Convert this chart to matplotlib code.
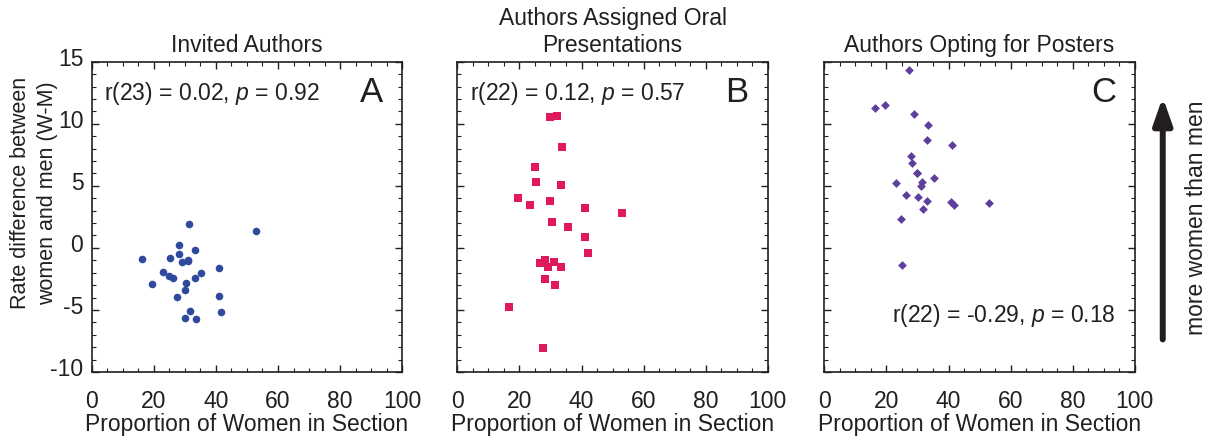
import matplotlib
matplotlib.use("Agg")
from matplotlib import pyplot as plt
from matplotlib.ticker import MultipleLocator
from matplotlib.transforms import ScaledTranslation

plt.rcParams['font.family'] = ['Liberation Sans', 'DejaVu Sans']
plt.rcParams['mathtext.fontset'] = 'custom'
plt.rcParams['mathtext.rm'] = 'Liberation Sans'
plt.rcParams['mathtext.it'] = 'Liberation Sans:italic'
plt.rcParams['axes.unicode_minus'] = False

# panel A - invited authors
invX = [31.4, 52.9, 28.1, 33.2, 16.3, 25.2, 28.2, 29.0, 31.1, 31.1, 41.0, 23.0, 24.8,
        26.3, 35.3, 33.2, 30.3, 19.5, 29.9, 27.4, 41.0, 31.7, 41.8, 29.9, 33.5]
invY = [1.93, 1.34, 0.26, -0.17, -0.89, -0.81, -0.52, -1.14, -0.95, -1.06, -1.6, -1.94, -2.29,
        -2.43, -2.02, -2.45, -2.8, -2.91, -3.39, -3.93, -3.88, -5.06, -5.19, -5.65, -5.75]

# panel B - oral presentations
oralX = [30.0, 32.0, 33.7, 25.0, 25.3, 33.3, 19.7, 23.3, 30.0, 41.1, 53.0, 30.5,
         35.5, 41.1, 42.0, 28.3, 26.5, 31.3, 29.2, 33.3, 28.2, 31.6, 16.5, 27.6]
oralY = [10.57, 10.65, 8.13, 6.55, 5.34, 5.07, 4.05, 3.46, 3.81, 3.22, 2.84, 2.11,
         1.71, 0.88, -0.41, -1.0, -1.24, -1.16, -1.51, -1.51, -2.51, -2.96, -4.76, -8.07]

# panel C - posters
postX = [27.4, 16.4, 19.5, 29.0, 33.5, 33.2, 41.0, 28.0, 28.1, 29.7, 29.9, 35.3,
         23.1, 31.4, 31.1, 26.3, 30.3, 33.2, 40.9, 41.7, 52.9, 31.8, 24.8, 25.1]
postY = [14.36, 11.3, 11.49, 10.79, 9.9, 8.67, 8.29, 7.43, 6.84, 6.06, 6.01, 5.63,
         5.2, 5.33, 4.99, 4.24, 4.13, 3.81, 3.72, 3.46, 3.62, 3.13, 2.35, -1.35]

titles = ['Invited Authors', 'Authors Assigned Oral\nPresentations', 'Authors Opting for Posters']
stats = ['r(23) = 0.02, $p$ = 0.92', 'r(22) = 0.12, $p$ = 0.57', 'r(22) = -0.29, $p$ = 0.18']
letters = ['A', 'B', 'C']

fig = plt.figure(figsize=(12.12, 4.39), dpi=100)
W, H = 1212.0, 439.0
lefts = [91.7, 457.3, 824.3]
axs = []
for l in lefts:
    axs.append(fig.add_axes([l / W, (H - 373) / H, 310.5 / W, 310.3 / H]))

data = [(invX, invY, 'o', '#2f4a9c', 30), (oralX, oralY, 's', '#e0195a', 28), (postX, postY, 'D', '#5e3f9c', 20)]
txtc = '#231f20'
fs = 16.5
for i, ax in enumerate(axs):
    x, y, m, c, s = data[i]
    ax.scatter(x, y, marker=m, s=s, color=c, linewidths=0)
    ax.set_xlim(0, 100)
    ax.set_ylim(-10, 15)
    ax.xaxis.set_major_locator(MultipleLocator(20))
    ax.xaxis.set_minor_locator(MultipleLocator(5))
    ax.yaxis.set_major_locator(MultipleLocator(5))
    ax.yaxis.set_minor_locator(MultipleLocator(1))
    ax.tick_params(which='both', direction='in', top=True, right=True, colors=txtc,
                   labelsize=fs)
    ax.tick_params(axis='x', which='major', pad=12)
    ax.tick_params(axis='y', which='major', pad=6)
    ax.tick_params(which='major', length=5, width=1)
    ax.tick_params(which='minor', length=3, width=0.8)
    for sp in ax.spines.values():
        sp.set_linewidth(1.2)
        sp.set_color(txtc)
    if i > 0:
        ax.set_yticklabels([])
    ax.set_xlabel('Proportion of Women in Section', fontsize=fs, color=txtc, labelpad=0)
    ax.set_title(titles[i], fontsize=fs, color=txtc, pad=8)
    if i == 2:
        ax.text(0.218, 0.184, stats[i], transform=ax.transAxes, fontsize=fs, color=txtc,
                va='center', ha='left')
    else:
        ax.text(0.04, 0.9, stats[i], transform=ax.transAxes, fontsize=fs, color=txtc,
                va='center', ha='left')
    ax.text(0.901, 0.905, letters[i], transform=ax.transAxes, fontsize=25, color=txtc,
            ha='center', va='center')

# y tick labels sit a little above their ticks in the original
shift = ScaledTranslation(0, 0.06, fig.dpi_scale_trans)
for lab in axs[0].get_yticklabels():
    lab.set_transform(lab.get_transform() + shift)

axs[0].set_ylabel('Rate difference between\nwomen and men (W-M)', fontsize=15.5, color=txtc,
                  linespacing=1.4)
axs[0].yaxis.set_label_coords(-0.108, 0.58)

axs[2].annotate('', xy=(1.09, 0.886), xytext=(1.09, 0.105), xycoords='axes fraction',
                arrowprops=dict(arrowstyle='-|>,head_length=0.8,head_width=0.28', lw=4.3,
                                color=txtc, mutation_scale=20, shrinkA=0, shrinkB=0),
                annotation_clip=False)
axs[2].text(1.198, 0.5, 'more women than men', transform=axs[2].transAxes, rotation=90,
            fontsize=fs, color=txtc, ha='center', va='center')

fig.savefig('out.png', dpi=100)
